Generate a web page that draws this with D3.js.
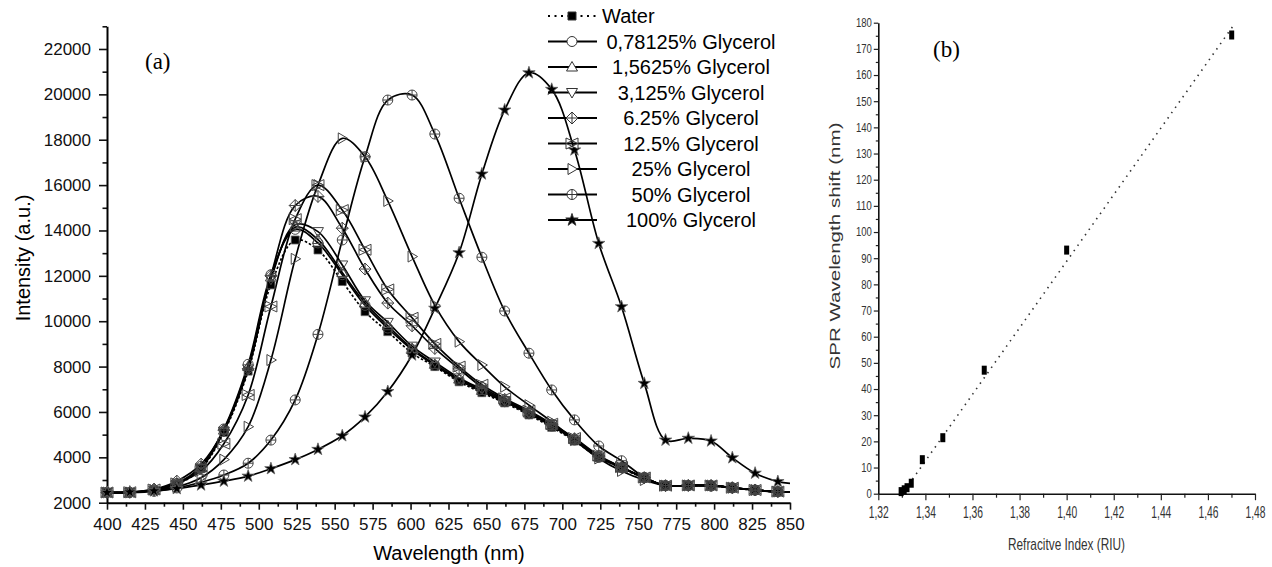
<!DOCTYPE html>
<html>
<head>
<meta charset="utf-8">
<script src="https://cdn.jsdelivr.net/npm/d3@7"></script>
<style>
  html, body { margin: 0; padding: 0; background: #fff; }
  svg { display: block; font-family: "Liberation Sans", Arial, sans-serif; }
</style>
</head>
<body>
<svg id="fig" width="1272" height="567"></svg>
<script>
// ---- panel (a): emission spectra ----
const wavelengths = [400, 415, 431, 446, 462, 477, 493, 508, 524, 539, 555, 570, 585, 601, 616,
  632, 647, 662, 678, 693, 708, 724, 739, 754, 768, 783, 798, 812, 827, 842, 850];

const water   = [2450, 2450, 2550, 2800, 3500, 5100, 7800, 11600, 13580, 13140, 11750, 10420, 9540, 8600, 8000,
  7330, 6850, 6400, 5870, 5320, 4720, 3980, 3520, 3080, 2750, 2750, 2750, 2650, 2550, 2480, 2470];
const gly0781 = [2450, 2450, 2560, 2850, 3600, 5250, 8100, 12050, 14050, 13450, 12050, 10700, 9700, 8750, 8050,
  7400, 6900, 6450, 5920, 5380, 4760, 4000, 3540, 3100, 2750, 2760, 2760, 2660, 2560, 2490, 2480];
const gly1562 = [2450, 2450, 2560, 2830, 3550, 5200, 8000, 11950, 14150, 13600, 12150, 10800, 9800, 8800, 8100,
  7450, 6950, 6480, 5950, 5400, 4780, 4020, 3550, 3100, 2750, 2760, 2760, 2660, 2560, 2490, 2480];
const gly3125 = [2450, 2450, 2550, 2820, 3520, 5150, 7900, 11850, 14250, 13950, 12480, 10900, 9950, 8900, 8200,
  7500, 7000, 6500, 5980, 5450, 4800, 4050, 3560, 3100, 2750, 2760, 2760, 2660, 2560, 2490, 2480];
const gly625  = [2450, 2460, 2600, 2950, 3700, 5200, 7900, 12000, 15100, 15500, 14100, 12300, 10800, 9800, 8800,
  7900, 7100, 6550, 6000, 5450, 4820, 4050, 3560, 3100, 2750, 2760, 2760, 2660, 2560, 2490, 2480];
const gly125  = [2450, 2460, 2580, 2850, 3400, 4600, 6750, 10650, 14500, 16000, 14900, 13150, 11400, 10150, 9000,
  8000, 7200, 6600, 6050, 5480, 4850, 4080, 3570, 3110, 2750, 2760, 2760, 2660, 2560, 2490, 2480];
const gly25   = [2450, 2450, 2550, 2700, 3100, 3900, 5350, 8290, 12750, 16000, 18060, 17250, 15300, 12850, 10700,
  9100, 8070, 7110, 6300, 5570, 4760, 3950, 3400, 3000, 2750, 2760, 2760, 2660, 2560, 2490, 2480];
const gly50   = [2450, 2450, 2500, 2650, 2900, 3220, 3740, 4760, 6530, 9420, 13580, 17250, 19750, 19970, 18250,
  15420, 12820, 10450, 8590, 6970, 5650, 4500, 3850, 3120, 2750, 2750, 2730, 2650, 2550, 2480, 2470];
const gly100  = [2450, 2470, 2520, 2620, 2780, 2950, 3170, 3500, 3900, 4350, 4950, 5780, 6900, 8510, 10570,
  13020, 16490, 19310, 20950, 20220, 17550, 13430, 10640, 7260, 4760, 4840, 4720, 3980, 3300, 2930, 2850];

const seriesNames = ["Water", "0,78125% Glycerol", "1,5625% Glycerol", "3,125% Glycerol", "6.25% Glycerol",
  "12.5% Glycerol", "25% Glycerol", "50% Glycerol", "100% Glycerol"];
const seriesValues = [water, gly0781, gly1562, gly3125, gly625, gly125, gly25, gly50, gly100];
const seriesMarkers = ["square", "circle", "triUp", "triDown", "diamondPlus", "bowStar", "triRight", "circlePlus", "star"];

const xTicksA = d3.range(400, 851, 25);
const yTicksA = d3.range(2000, 22001, 2000);

// ---- panel (b): SPR shift vs refractive index ----
const refIndex = [1.3297, 1.3310, 1.3322, 1.3340, 1.3387, 1.3474, 1.3650, 1.4000, 1.4701];
const sprShift = [0.8, 1.5, 2.3, 4.0, 13.0, 21.4, 47.2, 93.1, 175.3];
const fitX = [1.3345, 1.4705];
const fitY = [5.5, 178.5];
const xTicksB = d3.range(0, 9).map(i => 1.32 + i * 0.02);
const yTicksB = d3.range(0, 181, 10);

const svg = d3.select('#fig');

// ================= panel (a) =================
const xA = d3.scaleLinear().domain([400, 850]).range([107, 790]);
const yA = d3.scaleLinear().domain([2000, 23000]).range([502.7, 26.3]);

const gA = svg.append('g');

// minor ticks
gA.append('g')
  .attr('transform', `translate(0,${yA(2000)})`)
  .call(d3.axisBottom(xA).tickValues(d3.range(412.5, 850, 25)).tickSize(4).tickFormat(''))
  .call(g => g.select('.domain').remove());
gA.append('g')
  .attr('transform', `translate(${xA(400)},0)`)
  .call(d3.axisLeft(yA).tickValues(d3.range(3000, 23001, 2000)).tickSize(4.5).tickFormat(''))
  .call(g => g.select('.domain').remove());

const xAxisA = gA.append('g')
  .attr('transform', `translate(0,${yA(2000)})`)
  .call(d3.axisBottom(xA).tickValues(xTicksA).tickSize(7).tickPadding(8).tickSizeOuter(0).tickFormat(d3.format('d')));
const yAxisA = gA.append('g')
  .attr('transform', `translate(${xA(400)},0)`)
  .call(d3.axisLeft(yA).tickValues(yTicksA).tickSize(8).tickPadding(8).tickSizeOuter(0).tickFormat(d3.format('d')));

[xAxisA, yAxisA].forEach(ax => {
  ax.selectAll('text').attr('font-size', 17).attr('fill', '#111')
    .attr('font-family', '"Liberation Sans", Arial, sans-serif');
  ax.select('.domain').attr('stroke-width', 2);
});
gA.selectAll('.tick line').attr('stroke', '#111').attr('stroke-width', 1.6);

gA.append('text')
  .attr('transform', `translate(30,258) rotate(-90)`)
  .attr('text-anchor', 'middle')
  .attr('font-size', 20)
  .text('Intensity (a.u.)');
gA.append('text')
  .attr('x', 449).attr('y', 560)
  .attr('text-anchor', 'middle')
  .attr('font-size', 20)
  .text('Wavelength (nm)');
gA.append('text')
  .attr('x', 145).attr('y', 69)
  .attr('font-family', '"Liberation Serif", "Times New Roman", serif')
  .attr('font-size', 23)
  .text('(a)');

// marker paths
function markerPath(kind) {
  switch (kind) {
    case 'square': return 'M-4,-4H4V4H-4Z';
    case 'circle': return 'M5,0A5,5 0 1,1 -5,0A5,5 0 1,1 5,0Z';
    case 'triUp': return 'M0,-5.5L5.5,4L-5.5,4Z';
    case 'triDown': return 'M0,5.5L5.5,-4L-5.5,-4Z';
    case 'diamondPlus': return 'M0,-6L6,0L0,6L-6,0ZM-6,0H6M0,-6V6';
    case 'bowStar': return 'M-6,-5.5L6,0L-6,5.5ZM6,-5.5L-6,0L6,5.5Z';
    case 'triRight': return 'M-4,-5.5L5.5,0L-4,5.5Z';
    case 'circlePlus': return 'M5,0A5,5 0 1,1 -5,0A5,5 0 1,1 5,0ZM-5,0H5M0,-5V5';
    case 'star': return d3.symbol(d3.symbolStar, 48)();
  }
}
const filledKinds = new Set(['square', 'star']);

const lineA = d3.line()
  .x((d, i) => xA(wavelengths[i]))
  .y(d => yA(d))
  .curve(d3.curveCatmullRom.alpha(0.5));

const plotA = gA.append('g');
seriesValues.forEach((vals, s) => {
  plotA.append('path')
    .attr('d', lineA(vals))
    .attr('fill', 'none')
    .attr('stroke', '#000')
    .attr('stroke-width', 1.7)
    .attr('stroke-dasharray', s === 0 ? '2.5,2' : null);
});
seriesValues.forEach((vals, s) => {
  const kind = seriesMarkers[s];
  const filled = filledKinds.has(kind);
  plotA.append('g').selectAll('path')
    .data(vals.slice(0, wavelengths.length - 1))
    .join('path')
    .attr('transform', (d, i) => `translate(${xA(wavelengths[i])},${yA(d)})`)
    .attr('d', markerPath(kind))
    .attr('fill', filled ? '#000' : 'none')
    .attr('stroke', filled ? '#666' : '#444')
    .attr('stroke-width', filled ? 0.8 : 1);
});

// legend
const legend = gA.append('g');
seriesNames.forEach((name, s) => {
  const cy = 16 + s * 25.5;
  const row = legend.append('g');
  row.append('line')
    .attr('x1', 548).attr('x2', 597).attr('y1', cy).attr('y2', cy)
    .attr('stroke', '#000').attr('stroke-width', s === 0 ? 2 : 1.8)
    .attr('stroke-dasharray', s === 0 ? '2,4.5' : null);
  const kind = seriesMarkers[s];
  const filled = filledKinds.has(kind);
  row.append('path')
    .attr('transform', `translate(572,${cy})`)
    .attr('d', markerPath(kind))
    .attr('fill', filled ? '#000' : '#fff')
    .attr('stroke', '#333')
    .attr('stroke-width', 1);
  row.append('text')
    .attr('x', s === 0 ? 602 : 691)
    .attr('y', cy + 7)
    .attr('text-anchor', s === 0 ? 'start' : 'middle')
    .attr('font-size', 20)
    .text(name);
});

// ================= panel (b) =================
const xB = d3.scaleLinear().domain([1.32, 1.48]).range([878.3, 1255]);
const yB = d3.scaleLinear().domain([0, 180]).range([493.7, 22.7]);
const gB = svg.append('g');
const fmtComma = d => d3.format('.2f')(d).replace('.', ',');

gB.append('g')
  .attr('transform', `translate(0,${yB(0)})`)
  .call(d3.axisBottom(xB).tickValues(d3.range(0, 8).map(i => 1.33 + i * 0.02)).tickSize(4).tickFormat(''))
  .call(g => g.select('.domain').remove());
gB.append('g')
  .attr('transform', `translate(${xB(1.32)},0)`)
  .call(d3.axisLeft(yB).tickValues(d3.range(5, 180, 10)).tickSize(2.5).tickFormat(''))
  .call(g => g.select('.domain').remove());

const xAxisB = gB.append('g')
  .attr('transform', `translate(0,${yB(0)})`)
  .call(d3.axisBottom(xB).tickValues(xTicksB).tickSize(6.5).tickPadding(5).tickSizeOuter(0).tickFormat(fmtComma));
const yAxisB = gB.append('g')
  .attr('transform', `translate(${xB(1.32)},0)`)
  .call(d3.axisLeft(yB).tickValues(yTicksB).tickSize(4.5).tickPadding(2).tickSizeOuter(0).tickFormat(d3.format('d')));

xAxisB.selectAll('text').attr('font-size', 14).attr('fill', '#333')
  .attr('textLength', 20).attr('lengthAdjust', 'spacingAndGlyphs').attr('dy', '0.7em')
  .attr('transform', 'scale(1,1.15)');
yAxisB.selectAll('text').attr('font-size', 12).attr('fill', '#333')
  .attr('textLength', d => String(d).length * 5.3).attr('lengthAdjust', 'spacingAndGlyphs');
gB.selectAll('.domain').attr('stroke', '#111').attr('stroke-width', 1.6);
gB.selectAll('.tick line').attr('stroke', '#222').attr('stroke-width', 1.2);

gB.append('text')
  .attr('transform', `translate(839.5,246) rotate(-90)`)
  .attr('text-anchor', 'middle')
  .attr('font-size', 15)
  .attr('fill', '#333')
  .attr('textLength', 247).attr('lengthAdjust', 'spacingAndGlyphs')
  .text('SPR  Wavelength shift (nm)');
gB.append('text')
  .attr('x', 1066.5).attr('y', 550)
  .attr('text-anchor', 'middle')
  .attr('font-size', 17)
  .attr('fill', '#333')
  .attr('textLength', 117).attr('lengthAdjust', 'spacingAndGlyphs')
  .text('Refracitve Index (RIU)');
gB.append('text')
  .attr('x', 933).attr('y', 57)
  .attr('font-family', '"Liberation Serif", "Times New Roman", serif')
  .attr('font-size', 23)
  .text('(b)');

// linear fit (dotted)
gB.append('line')
  .attr('x1', xB(fitX[0])).attr('y1', yB(fitY[0]))
  .attr('x2', xB(fitX[1])).attr('y2', yB(fitY[1]))
  .attr('stroke', '#333').attr('stroke-width', 1.6)
  .attr('stroke-dasharray', '1.5,5');

gB.append('g').selectAll('rect')
  .data(refIndex)
  .join('rect')
  .attr('x', d => xB(d) - 2.5)
  .attr('y', (d, i) => yB(sprShift[i]) - 4.5)
  .attr('width', 5).attr('height', 9)
  .attr('fill', '#000');
</script>
</body>
</html>
